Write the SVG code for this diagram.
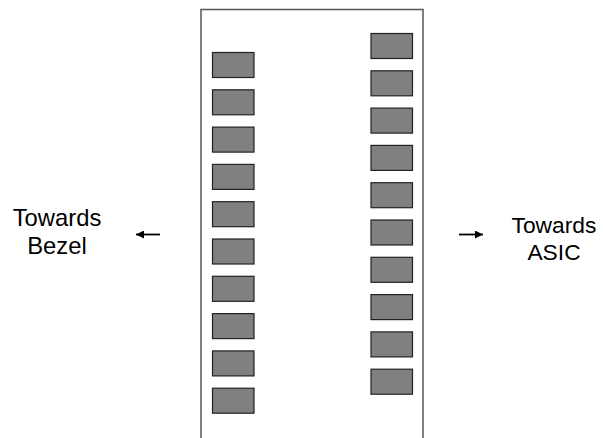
<svg xmlns="http://www.w3.org/2000/svg" width="603" height="438" viewBox="0 0 603 438">
<style>
.pad{fill:#808080;stroke:#222;stroke-width:1.2}
.frame{fill:none;stroke:#555;stroke-width:1.5}
.lbl{font-family:"Liberation Sans",Arial,sans-serif;fill:#000;text-anchor:middle}
.arr{stroke:#000;stroke-width:1.8;fill:none}
</style>
<defs>
<marker id="ah" viewBox="0 0 10 10" refX="10" refY="5" markerWidth="11" markerHeight="8" markerUnits="userSpaceOnUse" orient="auto">
<path d="M0,0 L10,5 L0,10 Z" fill="#000"/>
</marker>
</defs>
<g id="frame"><path class="frame" d="M201,438 V9.5 H423 V438"/></g>
<g id="left-pads">
<rect class="pad" x="212.5" y="52.5" width="41.5" height="25"/>
<rect class="pad" x="212.5" y="89.8" width="41.5" height="25"/>
<rect class="pad" x="212.5" y="127.1" width="41.5" height="25"/>
<rect class="pad" x="212.5" y="164.4" width="41.5" height="25"/>
<rect class="pad" x="212.5" y="201.7" width="41.5" height="25"/>
<rect class="pad" x="212.5" y="239" width="41.5" height="25"/>
<rect class="pad" x="212.5" y="276.3" width="41.5" height="25"/>
<rect class="pad" x="212.5" y="313.6" width="41.5" height="25"/>
<rect class="pad" x="212.5" y="350.9" width="41.5" height="25"/>
<rect class="pad" x="212.5" y="388.2" width="41.5" height="25"/>
</g>
<g id="right-pads">
<rect class="pad" x="371" y="33.5" width="41.5" height="25"/>
<rect class="pad" x="371" y="70.8" width="41.5" height="25"/>
<rect class="pad" x="371" y="108.1" width="41.5" height="25"/>
<rect class="pad" x="371" y="145.4" width="41.5" height="25"/>
<rect class="pad" x="371" y="182.7" width="41.5" height="25"/>
<rect class="pad" x="371" y="220" width="41.5" height="25"/>
<rect class="pad" x="371" y="257.3" width="41.5" height="25"/>
<rect class="pad" x="371" y="294.6" width="41.5" height="25"/>
<rect class="pad" x="371" y="331.9" width="41.5" height="25"/>
<rect class="pad" x="371" y="369.2" width="41.5" height="25"/>
</g>
<g id="bezel-label">
<text class="lbl" x="57" y="226" font-size="23.8">Towards</text>
<text class="lbl" x="57" y="253.5" font-size="23.8">Bezel</text>
</g>
<g id="asic-label">
<text class="lbl" x="554" y="233" font-size="22.8">Towards</text>
<text class="lbl" x="554" y="260" font-size="22.8">ASIC</text>
</g>
<g id="connectors">
<line class="arr" x1="160" y1="234.5" x2="136" y2="234.5" marker-end="url(#ah)"/>
<line class="arr" x1="459" y1="234.5" x2="483" y2="234.5" marker-end="url(#ah)"/>
</g>
</svg>
